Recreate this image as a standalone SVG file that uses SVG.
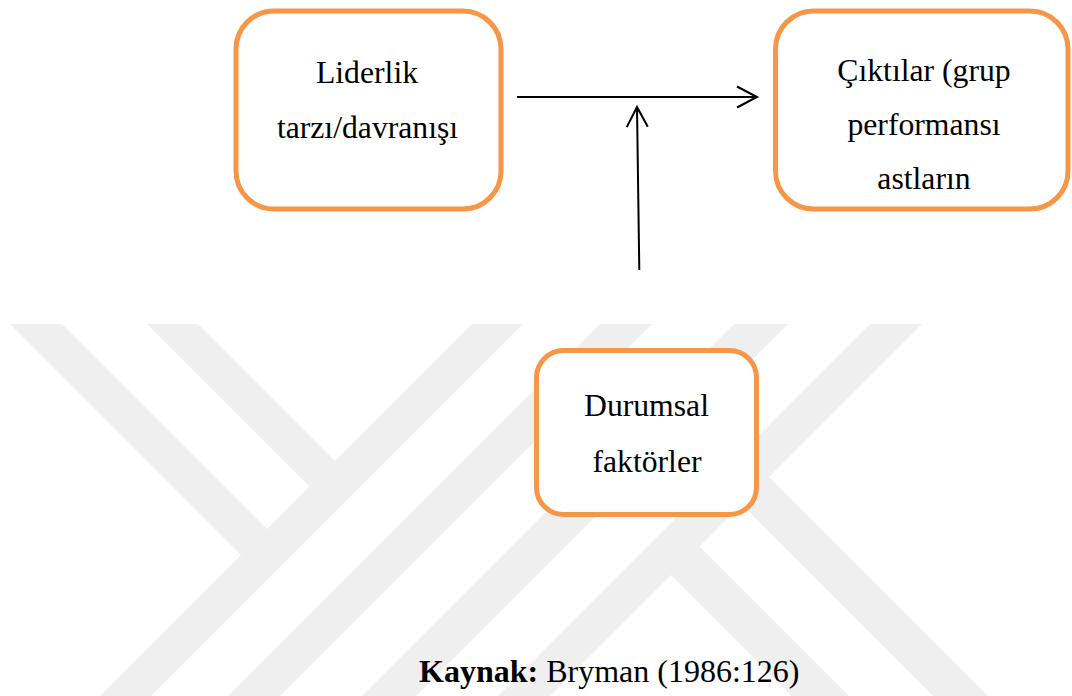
<svg xmlns="http://www.w3.org/2000/svg" width="1072" height="696" viewBox="0 0 1072 696">
  <style>
    .wm { fill: #efefef; stroke: none; }
    .box { fill: #ffffff; stroke: #F79646; stroke-width: 5; }
    .lbl { font-family: "Liberation Serif", "Times New Roman", serif; font-size: 31.7px; fill: #000000; text-anchor: middle; }
    .cap { font-family: "Liberation Serif", "Times New Roman", serif; font-size: 32px; fill: #000000; }
    .edge { stroke: #000000; stroke-width: 2; fill: none; }
  </style>
  <defs>
    <marker id="openArrow" viewBox="-24 -14 28 28" markerWidth="28" markerHeight="28" refX="0" refY="0" orient="auto" markerUnits="userSpaceOnUse" overflow="visible">
      <path d="M -20,-10.5 L 0,0 L -20,10.5" fill="none" stroke="#000000" stroke-width="2" stroke-linejoin="miter"/>
    </marker>
  </defs>
  <rect x="0" y="0" width="1072" height="696" fill="#ffffff"/>
  <g id="watermark">
    <polygon class="wm" points="10,324 62,324 267,529 241,555"/>
    <polygon class="wm" points="147,324 198,324 335,461 309.5,486.5"/>
    <polygon class="wm" points="472,324 523,324 147,700 96,700"/>
    <polygon class="wm" points="600,324 652,324 276,700 224,700"/>
    <polygon class="wm" points="734,324 788,324 412,700 358,700"/>
    <polygon class="wm" points="870,324 922,324 546,700 494,700"/>
    <polygon class="wm" points="668,572 696.5,543.5 853,700 796,700"/>
    <polygon class="wm" points="738.5,501.5 766,474 992,700 937,700"/>
  </g>
  <g id="connectors">
    <line class="edge" x1="517" y1="97" x2="757" y2="97" marker-end="url(#openArrow)"/>
    <line class="edge" x1="639.3" y1="270" x2="637" y2="107" marker-end="url(#openArrow)"/>
  </g>
  <g id="node-liderlik">
    <rect class="box" x="236" y="11" width="265" height="198" rx="38" ry="38"/>
    <text class="lbl" x="367" y="83">Liderlik</text>
    <text class="lbl" x="367.5" y="138">tarzı/davranışı</text>
  </g>
  <g id="node-ciktilar">
    <rect class="box" x="775.5" y="11" width="292.5" height="198" rx="38" ry="38"/>
    <text class="lbl" x="924" y="81">Çıktılar (grup</text>
    <text class="lbl" x="924" y="135">performansı</text>
    <text class="lbl" x="924" y="189">astların</text>
  </g>
  <g id="node-durumsal">
    <rect class="box" x="536.5" y="350.5" width="220" height="164" rx="27" ry="27"/>
    <text class="lbl" x="646.5" y="416">Durumsal</text>
    <text class="lbl" x="647" y="471.5">faktörler</text>
  </g>
  <g id="caption">
    <text class="cap" x="419" y="682"><tspan font-weight="bold">Kaynak:</tspan> Bryman (1986:126)</text>
  </g>
</svg>
